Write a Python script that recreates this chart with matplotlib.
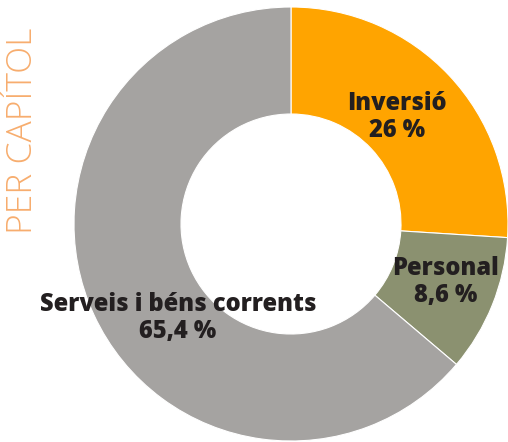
import matplotlib
matplotlib.use("Agg")
import matplotlib.pyplot as plt

categories = ["Inversió", "Personal", "Serveis i béns corrents"]
# wedge shares as drawn in the picture
values = [26.0, 10.2, 63.8]
value_labels = ["26 %", "8,6 %", "65,4 %"]
colors = ["#FFA400", "#8B9170", "#A5A3A1"]

fig = plt.figure(figsize=(5.08, 4.42), dpi=100)
ax = fig.add_axes([0, 0, 1, 1])
ax.set_axis_off()

cx, cy, R = 291, 442 - 224, 217
ax.pie(values, colors=colors, startangle=90, counterclock=False,
       center=(cx, cy), radius=R,
       wedgeprops=dict(width=R - 110, edgecolor="white", linewidth=0.8))
ax.set_xlim(0, 508)
ax.set_ylim(0, 442)
ax.set_aspect("equal")

label_pos = [(397, 442 - 117), (446, 442 - 282), (178, 442 - 318)]
for cat, vl, (x, y) in zip(categories, value_labels, label_pos):
    ax.text(x, y, f"{cat}\n{vl}", ha="center", va="center", fontsize=17,
            fontfamily="Open Sans", fontweight=800, color="#231F20",
            linespacing=1.1)

fig.text(23 / 508, 1 - 131 / 442, "PER CAPÍTOL", rotation=90, ha="center",
         va="center", fontsize=25.5, fontfamily="Open Sans", fontweight="light",
         color="#F7AD6E")

fig.savefig("out.png", dpi=100)
